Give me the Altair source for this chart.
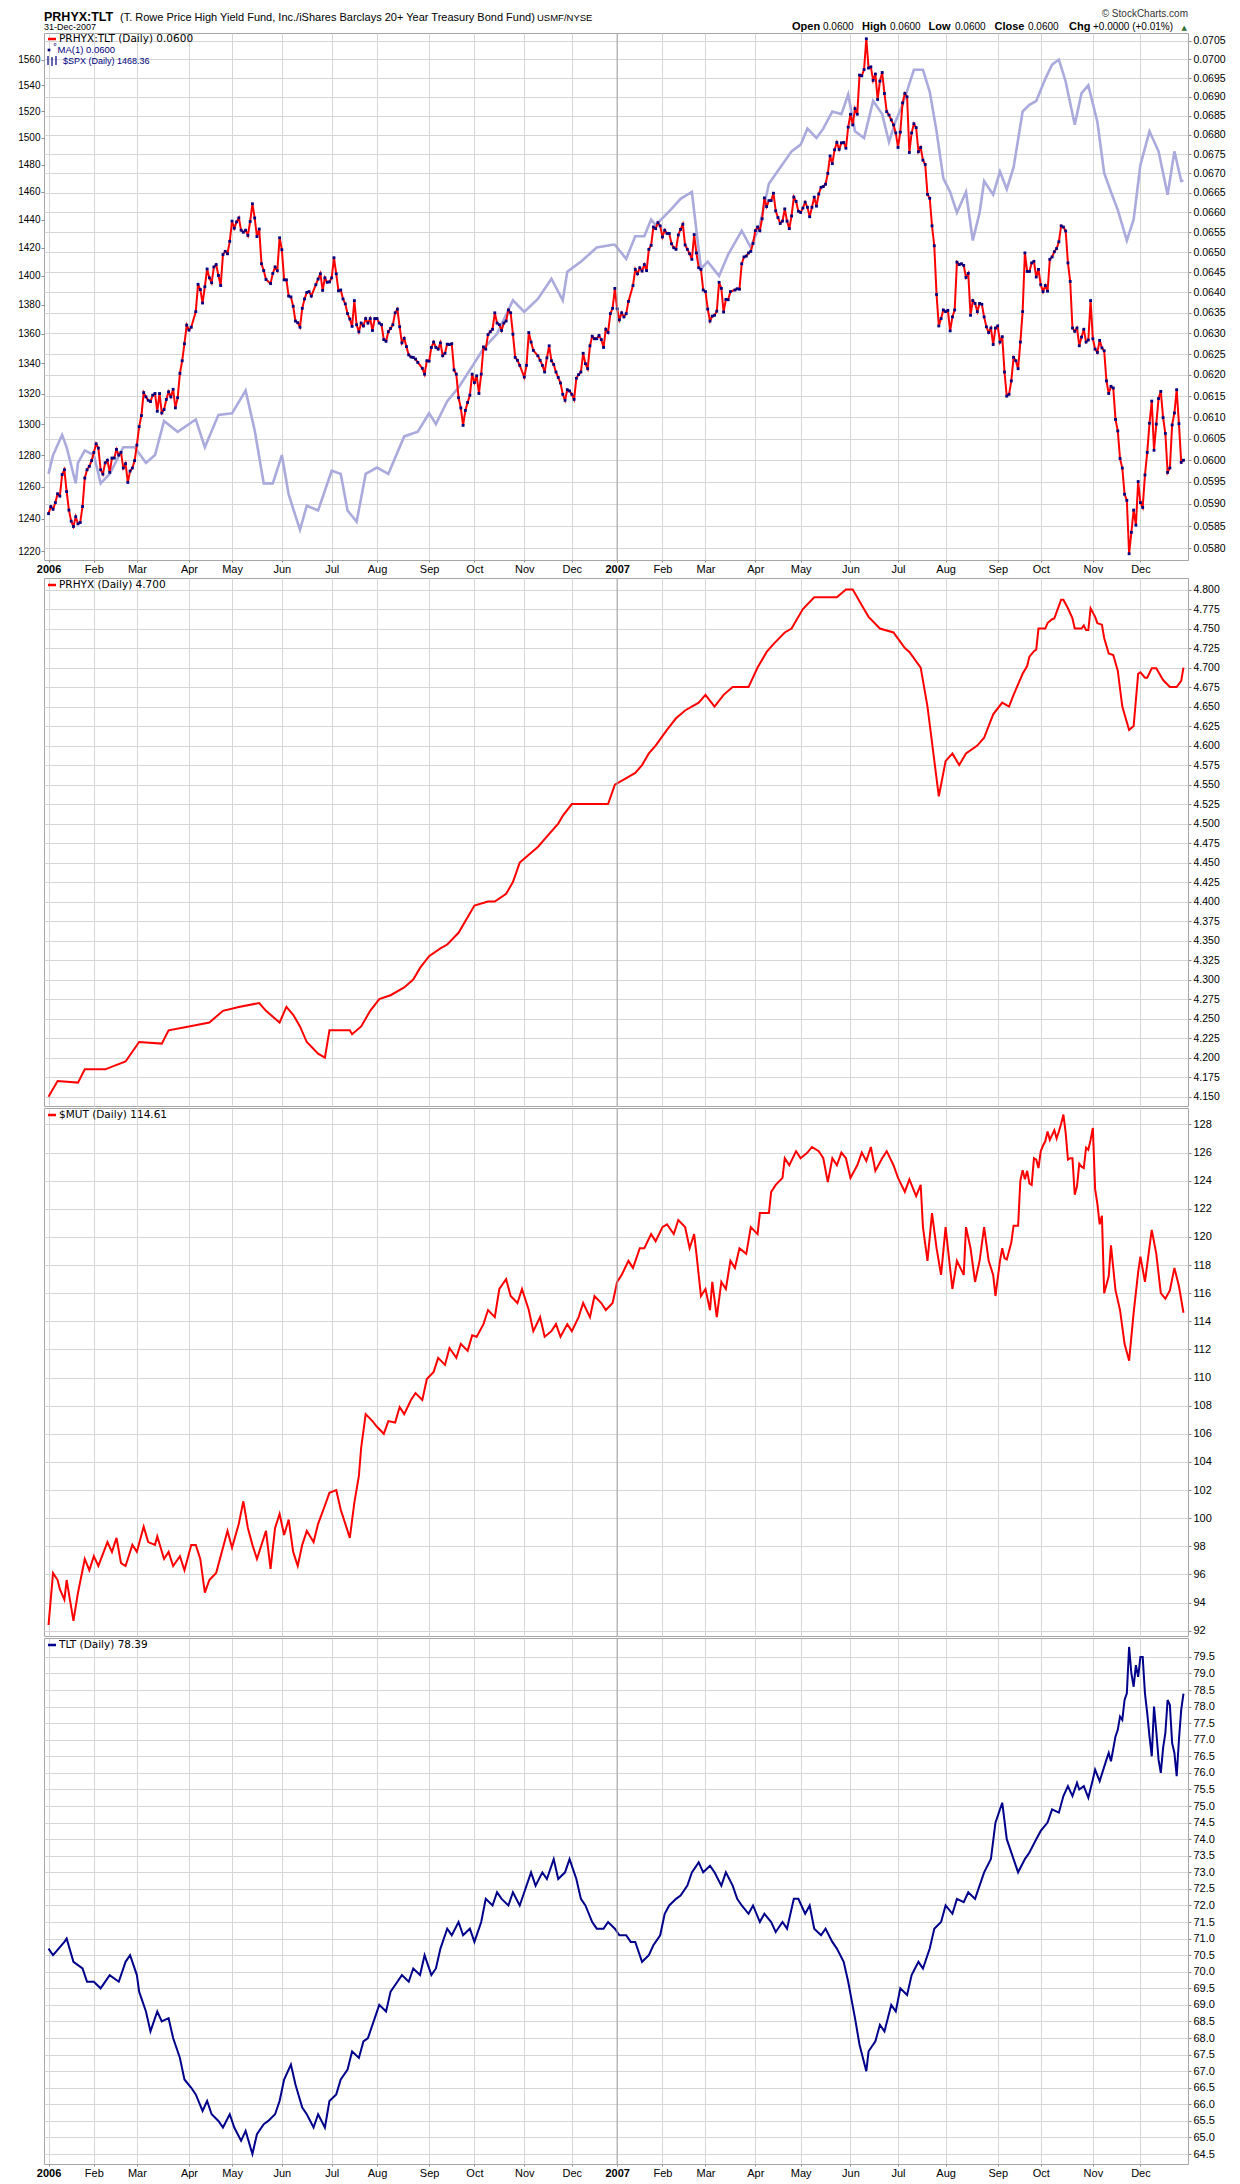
import json
import altair as alt
import pandas as pd

# ---------------- data ----------------
# (session number counted from 2006-01-03 = 0, value)
SPX_POINTS = [
    (0, 1268), (2, 1280), (6, 1293), (8, 1285), (12, 1262), (13, 1275), (16, 1283), (20, 1280),
    (23, 1262), (27, 1268), (33, 1285), (38, 1285), (43, 1275), (47, 1280), (51, 1302), (57, 1295),
    (65, 1303), (69, 1285), (75, 1306), (81, 1307), (87, 1322), (91, 1296), (95, 1262), (99, 1262),
    (103, 1280), (106, 1255), (111, 1233), (114, 1248), (119, 1245), (125, 1270), (129, 1268),
    (132, 1245), (136, 1238), (140, 1268), (145, 1272), (150, 1268), (157, 1292), (163, 1295),
    (168, 1307), (171, 1300), (176, 1315), (181, 1324), (187, 1338), (192, 1350), (198, 1360),
    (205, 1383), (210, 1375), (216, 1384), (222, 1398), (227, 1383), (229, 1403), (235, 1410),
    (242, 1420), (249, 1422), (250, 1422), (255, 1412), (259, 1428), (263, 1428), (266, 1440),
    (268, 1436), (274, 1446), (279, 1455), (284, 1460), (288, 1405), (291, 1410), (296, 1400),
    (300, 1415), (306, 1432), (310, 1420), (314, 1436), (318, 1466), (323, 1478), (328, 1490),
    (332, 1495), (335, 1507), (339, 1500), (342, 1507), (346, 1520), (350, 1518), (353, 1533),
    (356, 1505), (360, 1500), (364, 1528), (368, 1518), (371, 1497), (374, 1513), (377, 1525),
    (382, 1552), (386, 1552), (389, 1535), (392, 1505), (395, 1470), (398, 1460), (401, 1445),
    (405, 1460), (408, 1425), (411, 1445), (413, 1468), (417, 1458), (420, 1475), (423, 1462),
    (426, 1478), (430, 1520), (433, 1525), (436, 1528), (440, 1545), (443, 1556), (446, 1560),
    (449, 1543), (453, 1510), (456, 1534), (459, 1540), (463, 1512), (466, 1474), (469, 1460),
    (472, 1447), (476, 1425), (479, 1440), (482, 1480), (486, 1505), (490, 1490), (494, 1458),
    (497, 1490), (500, 1468), (501, 1468.36)]

PRHYX_POINTS = [
    (0, 4.150), (4, 4.170), (13, 4.168), (16, 4.185), (25, 4.185), (34, 4.195), (40, 4.220),
    (50, 4.218), (53, 4.235), (62, 4.240), (71, 4.245), (77, 4.260), (84, 4.265), (93, 4.270),
    (96, 4.260), (102, 4.245), (105, 4.265), (108, 4.255), (111, 4.240), (114, 4.220), (119, 4.205),
    (122, 4.200), (124, 4.235), (133, 4.235), (134, 4.230), (138, 4.240), (142, 4.260), (146, 4.275),
    (151, 4.280), (157, 4.290), (161, 4.300), (164, 4.315), (168, 4.330), (173, 4.340), (176, 4.345),
    (181, 4.360), (185, 4.380), (188, 4.395), (194, 4.400), (197, 4.400), (202, 4.410), (205, 4.425),
    (208, 4.450), (212, 4.460), (216, 4.470), (219, 4.480), (225, 4.500), (227, 4.510), (231, 4.525),
    (247, 4.525), (250, 4.550), (256, 4.560), (259, 4.565), (262, 4.575), (265, 4.590), (268, 4.600),
    (273, 4.620), (277, 4.635), (281, 4.645), (287, 4.655), (290, 4.665), (294, 4.650), (298, 4.665),
    (302, 4.675), (309, 4.675), (313, 4.700), (317, 4.720), (320, 4.730), (325, 4.745), (328, 4.750),
    (333, 4.775), (338, 4.790), (348, 4.790), (352, 4.800), (355, 4.800), (359, 4.780), (362, 4.765),
    (367, 4.750), (373, 4.745), (378, 4.725), (380, 4.720), (385, 4.700), (388, 4.650), (393, 4.535),
    (396, 4.580), (399, 4.590), (402, 4.575), (405, 4.590), (410, 4.600), (413, 4.610), (417, 4.640),
    (421, 4.655), (424, 4.650), (426, 4.665), (430, 4.692), (432, 4.702), (433, 4.714), (435, 4.721),
    (436, 4.723), (437, 4.750), (440, 4.750), (441, 4.757), (443, 4.762), (444, 4.763), (445, 4.771),
    (447, 4.787), (448, 4.787), (450, 4.776), (452, 4.763), (453, 4.750), (456, 4.750), (457, 4.754),
    (458, 4.748), (459, 4.748), (460, 4.776), (462, 4.765), (463, 4.757), (465, 4.755), (466, 4.738),
    (468, 4.718), (470, 4.716), (472, 4.696), (474, 4.650), (477, 4.620), (479, 4.625), (481, 4.692),
    (482, 4.694), (484, 4.687), (485, 4.687), (487, 4.699), (489, 4.699), (492, 4.684), (495, 4.675),
    (498, 4.675), (500, 4.683), (501, 4.700)]

MUT_POINTS = [
    (0, 92.4), (2, 96.1), (4, 95.6), (5, 94.95), (7, 94.2), (8, 95.6), (11, 92.7), (13, 94.7),
    (16, 97.1), (18, 96.3), (20, 97.3), (22, 96.6), (26, 98.3), (28, 97.6), (30, 98.6), (32, 96.8),
    (34, 96.6), (37, 98.1), (39, 97.6), (42, 99.4), (44, 98.3), (47, 98.1), (48, 98.7), (51, 97.1),
    (53, 97.6), (55, 96.6), (58, 97.3), (60, 96.3), (63, 98.1), (65, 98.1), (67, 97.1), (69, 94.7),
    (71, 95.6), (74, 96.1), (76, 97.3), (79, 99.1), (81, 97.9), (84, 99.6), (86, 101.2), (88, 99.3),
    (90, 98.1), (92, 97.1), (95, 98.6), (96, 99.1), (98, 96.4), (100, 99.3), (102, 100.3), (104, 98.8),
    (106, 99.9), (108, 97.6), (110, 96.6), (112, 98.1), (114, 99.1), (117, 98.3), (119, 99.6),
    (122, 100.9), (124, 101.8), (127, 102.0), (129, 100.6), (132, 99.1), (133, 98.6), (135, 101.1),
    (137, 103.0), (138, 105.0), (140, 107.4), (143, 106.9), (145, 106.5), (148, 106.0), (150, 106.9),
    (153, 106.8), (155, 107.9), (157, 107.4), (160, 108.4), (162, 108.9), (165, 108.4), (167, 109.9),
    (170, 110.4), (172, 111.4), (175, 110.9), (177, 112.1), (180, 111.4), (182, 112.4), (185, 111.9),
    (187, 113.0), (189, 112.9), (192, 113.8), (194, 114.8), (197, 114.3), (199, 116.3), (202, 117.0),
    (204, 115.8), (207, 115.3), (209, 116.3), (212, 114.8), (214, 113.3), (217, 114.3), (219, 112.9),
    (222, 113.3), (224, 113.8), (226, 112.9), (229, 113.8), (231, 113.3), (234, 114.3), (236, 115.3),
    (239, 114.3), (241, 115.8), (244, 115.3), (246, 114.8), (249, 115.3), (251, 116.8), (253, 117.3),
    (256, 118.3), (258, 117.8), (261, 119.2), (263, 119.2), (266, 120.2), (268, 119.7), (271, 120.7),
    (273, 120.9), (276, 120.2), (278, 121.2), (281, 120.7), (283, 119.2), (285, 120.2), (286, 118.8),
    (288, 115.8), (290, 116.3), (292, 114.8), (293, 116.8), (295, 114.3), (297, 116.8), (299, 116.3),
    (301, 118.3), (303, 117.8), (305, 119.2), (308, 118.8), (310, 120.7), (313, 120.2), (314, 121.7),
    (318, 121.7), (319, 123.2), (321, 123.7), (324, 124.2), (325, 125.6), (327, 125.1), (330, 126.1),
    (332, 125.6), (335, 126.0), (337, 126.4), (340, 126.1), (342, 125.6), (344, 123.9), (346, 125.6),
    (348, 125.1), (350, 126.0), (352, 125.6), (354, 124.2), (357, 125.1), (359, 126.0), (361, 125.4),
    (363, 126.4), (365, 124.7), (368, 125.6), (370, 126.1), (373, 125.1), (375, 124.2), (378, 123.2),
    (380, 124.1), (383, 122.9), (385, 123.7), (386, 120.7), (388, 118.3), (390, 121.7), (392, 119.2),
    (394, 117.3), (396, 120.7), (397, 119.2), (399, 116.3), (401, 118.3), (404, 117.3), (405, 120.7),
    (407, 119.2), (409, 116.8), (411, 118.3), (413, 120.7), (415, 118.3), (417, 117.3), (418, 115.8),
    (420, 118.3), (421, 119.2), (422, 118.5), (423, 118.4), (425, 119.6), (426, 120.8), (428, 120.8),
    (429, 124.0), (430, 124.75), (431, 124.1), (432, 124.7), (433, 123.8), (434, 123.7), (435, 125.6),
    (436, 125.5), (437, 124.9), (438, 126.1), (439, 126.5), (440, 126.8), (441, 127.5), (442, 126.9),
    (444, 127.6), (445, 127.0), (446, 127.5), (447, 128.05), (448, 128.7), (449, 127.4), (450, 125.5),
    (451, 125.6), (452, 125.6), (453, 123.0), (454, 123.6), (455, 125.2), (456, 125.0), (457, 124.9),
    (458, 126.35), (459, 126.2), (460, 126.9), (461, 127.75), (462, 123.4), (463, 122.35), (464, 120.9),
    (465, 121.5), (466, 116.0), (468, 117.2), (469, 119.4), (471, 116.2), (473, 114.8), (475, 112.4),
    (477, 111.2), (479, 114.6), (481, 117.5), (482, 118.6), (484, 116.8), (486, 119.3), (487, 120.5),
    (489, 118.8), (491, 116.0), (493, 115.6), (495, 116.2), (497, 117.8), (499, 116.5), (501, 114.61)]

TLT_POINTS = [
    (0, 70.7), (2, 70.5), (7, 70.9), (8, 71.0), (11, 70.3), (15, 70.1), (17, 69.7), (20, 69.7),
    (23, 69.5), (27, 69.9), (31, 69.7), (34, 70.3), (36, 70.5), (39, 69.9), (40, 69.4), (43, 68.8),
    (45, 68.2), (48, 68.8), (50, 68.5), (53, 68.6), (55, 68.0), (58, 67.4), (60, 66.75), (63, 66.5),
    (65, 66.3), (68, 65.8), (70, 66.1), (72, 65.7), (75, 65.5), (77, 65.3), (80, 65.7), (82, 65.3),
    (85, 64.9), (87, 65.2), (90, 64.5), (92, 65.1), (95, 65.4), (97, 65.5), (100, 65.7), (102, 66.1),
    (104, 66.75), (107, 67.2), (109, 66.6), (112, 65.9), (114, 65.7), (117, 65.3), (119, 65.7),
    (122, 65.3), (124, 66.1), (127, 66.3), (129, 66.75), (132, 67.05), (134, 67.6), (137, 67.4),
    (139, 67.9), (141, 68.0), (144, 68.6), (146, 69.0), (149, 68.8), (151, 69.4), (154, 69.7),
    (156, 69.9), (159, 69.7), (161, 70.1), (164, 69.9), (166, 70.5), (169, 69.9), (171, 70.1),
    (173, 70.7), (176, 71.3), (178, 71.1), (181, 71.5), (183, 71.1), (186, 71.3), (188, 70.9),
    (191, 71.5), (193, 72.2), (196, 72.0), (198, 72.4), (200, 72.2), (203, 72.0), (205, 72.4),
    (208, 72.0), (210, 72.4), (213, 73.0), (215, 72.6), (218, 73.0), (220, 72.8), (223, 73.4),
    (225, 72.8), (228, 73.0), (230, 73.4), (233, 72.8), (235, 72.2), (237, 72.0), (240, 71.5),
    (242, 71.3), (245, 71.3), (247, 71.5), (250, 71.3), (252, 71.1), (255, 71.1), (257, 70.9),
    (259, 70.9), (262, 70.3), (265, 70.5), (267, 70.8), (270, 71.1), (272, 71.75), (274, 72.0),
    (277, 72.2), (279, 72.3), (282, 72.6), (284, 73.0), (287, 73.3), (289, 73.0), (292, 73.2),
    (294, 73.0), (297, 72.6), (299, 73.0), (302, 72.6), (304, 72.2), (306, 72.0), (309, 71.75),
    (311, 72.0), (314, 71.5), (316, 71.75), (319, 71.5), (321, 71.2), (324, 71.5), (326, 71.3),
    (329, 72.2), (331, 72.2), (334, 71.75), (336, 72.0), (338, 71.3), (341, 71.1), (343, 71.3),
    (346, 70.9), (348, 70.7), (351, 70.3), (353, 69.7), (356, 68.6), (358, 67.8), (361, 67.0),
    (362, 67.6), (365, 67.9), (367, 68.4), (369, 68.2), (372, 69.0), (374, 68.8), (376, 69.5),
    (379, 69.3), (381, 69.9), (384, 70.3), (386, 70.1), (389, 70.7), (391, 71.3), (394, 71.5),
    (396, 72.0), (399, 71.75), (401, 72.2), (404, 72.1), (406, 72.4), (409, 72.2), (411, 72.6),
    (413, 73.0), (416, 73.4), (418, 74.5), (421, 75.1), (423, 74.0), (426, 73.4), (428, 73.0),
    (431, 73.4), (433, 73.6), (436, 74.0), (438, 74.25), (441, 74.5), (443, 74.9), (446, 74.8),
    (448, 75.3), (450, 75.6), (452, 75.3), (454, 75.7), (455, 75.5), (457, 75.6), (459, 75.25),
    (461, 75.8), (462, 76.1), (464, 75.75), (467, 76.4), (468, 76.6), (469, 76.35), (471, 77.1),
    (472, 77.3), (473, 77.7), (474, 77.6), (475, 78.2), (476, 78.4), (477, 79.8), (478, 79.0),
    (479, 78.6), (480, 79.25), (481, 78.9), (482, 79.5), (483, 79.5), (484, 78.4), (485, 77.8),
    (486, 77.1), (487, 76.5), (488, 78.0), (489, 77.25), (490, 76.4), (491, 76.0), (492, 76.75),
    (493, 77.2), (494, 78.2), (495, 78.05), (496, 76.9), (497, 76.6), (498, 75.9), (499, 77.0),
    (500, 77.9), (501, 78.39)]

# PRHYX:TLT ratio, daily (session number, value)
RATIO_SESSION = [
    0, 1, 2, 3, 4, 5, 6, 7, 8, 9, 10, 11, 12, 13, 14, 15, 16, 17, 18, 19,
    20, 21, 22, 23, 24, 25, 26, 27, 28, 29, 30, 31, 32, 33, 34, 35, 36, 37, 38, 39,
    40, 41, 42, 43, 44, 45, 46, 47, 48, 49, 50, 51, 52, 53, 54, 55, 56, 57, 58, 59,
    60, 61, 62, 63, 65, 66, 67, 68, 69, 70, 71, 72, 73, 74, 75, 76, 77, 78, 79, 80,
    81, 82, 83, 84, 85, 86, 87, 88, 89, 90, 91, 92, 93, 94, 95, 96, 98, 99, 100, 101,
    102, 103, 104, 105, 106, 107, 108, 109, 110, 111, 112, 113, 114, 115, 116, 118, 119, 120, 121, 122,
    123, 124, 125, 126, 127, 128, 129, 130, 131, 132, 133, 134, 135, 136, 137, 138, 139, 140, 141, 142,
    143, 144, 145, 146, 147, 148, 149, 150, 151, 152, 153, 154, 155, 156, 157, 158, 159, 160, 161, 162,
    163, 165, 166, 167, 168, 169, 170, 171, 172, 173, 174, 175, 176, 177, 178, 179, 180, 181, 182, 183,
    184, 185, 186, 187, 188, 189, 190, 191, 192, 193, 194, 195, 196, 197, 198, 199, 200, 201, 202, 203,
    204, 205, 206, 207, 208, 210, 211, 212, 213, 214, 216, 217, 218, 219, 220, 221, 222, 223, 224, 225,
    226, 227, 228, 229, 230, 231, 232, 233, 234, 235, 236, 237, 238, 239, 240, 241, 242, 243, 244, 245,
    246, 247, 248, 249,
    250, 251, 252, 253, 254, 255, 256, 258, 259, 260, 261, 262, 263, 264, 265, 266, 267, 268, 269, 270,
    271, 272, 273, 274, 275, 276, 277, 278, 279, 280, 281, 282, 283, 284, 285, 286, 287, 288, 289, 290,
    291, 292, 293, 294, 295, 296, 297, 298, 299, 300, 301, 303, 304, 305, 306, 307, 308, 309, 310, 311,
    312, 313, 314, 315, 316, 317, 318, 319, 320, 321, 322, 323, 324, 325, 326, 327, 328, 329, 330, 331,
    332, 333, 334, 335, 336, 337, 338, 339, 340, 341, 342, 343, 344, 345, 346, 347, 348, 349, 350, 351,
    352, 353, 354, 355, 356, 357, 358, 359, 360, 361, 362, 363, 364, 365, 366, 367, 368, 369, 370, 371,
    372, 373, 374, 375, 376, 377, 378, 379, 380, 381, 382, 383, 384, 385, 386, 387, 388, 389, 390, 391,
    392, 393, 394, 395, 396, 397, 398, 399, 400, 401, 402, 403, 404, 405, 406, 407, 408, 409, 410, 411,
    412, 413, 414, 415, 416, 417, 418, 419, 420, 421, 422, 423, 424, 425, 426, 427, 428, 429, 430, 431,
    432, 433, 434, 435, 436, 437, 438, 439, 440, 441, 442, 443, 444, 445, 446, 447, 448, 449, 450, 451,
    452, 453, 454, 455, 456, 457, 458, 459, 460, 461, 462, 463, 464, 465, 466, 467, 468, 469, 470, 471,
    472, 473, 474, 475, 476, 477, 478, 479, 480, 481, 482, 483, 484, 485, 486, 487, 488, 489, 490, 491,
    492, 493, 494, 495, 496, 497, 498, 499, 500, 501]
RATIO_VALUE = [
    0.05878, 0.05894, 0.05888, 0.05903, 0.05923, 0.05918, 0.05967, 0.05978, 0.05928, 0.05886,
    0.05861, 0.05849, 0.05871, 0.05855, 0.05858, 0.05894, 0.05959, 0.05978, 0.05986, 0.05999,
    0.06018, 0.06038, 0.06028, 0.05978, 0.05968, 0.05994, 0.06000, 0.05972, 0.06005, 0.06005,
    0.06025, 0.06012, 0.06018, 0.05982, 0.05992, 0.05949, 0.05975, 0.05982, 0.05999, 0.06035,
    0.06078, 0.06104, 0.06158, 0.06148, 0.06140, 0.06137, 0.06152, 0.06156, 0.06114, 0.06156,
    0.06110, 0.06118, 0.06142, 0.06160, 0.06148, 0.06166, 0.06122, 0.06146, 0.06204, 0.06234,
    0.06275, 0.06320, 0.06308, 0.06315, 0.06353, 0.06420, 0.06407, 0.06374, 0.06414, 0.06458,
    0.06436, 0.06424, 0.06463, 0.06469, 0.06442, 0.06417, 0.06494, 0.06502, 0.06496, 0.06527,
    0.06578, 0.06560, 0.06576, 0.06586, 0.06555, 0.06550, 0.06555, 0.06542, 0.06577, 0.06622,
    0.06586, 0.06539, 0.06558, 0.06471, 0.06454, 0.06432, 0.06422, 0.06447, 0.06463, 0.06454,
    0.06536, 0.06506, 0.06431, 0.06431, 0.06391, 0.06389, 0.06366, 0.06330, 0.06326, 0.06315,
    0.06361, 0.06384, 0.06400, 0.06402, 0.06391, 0.06419, 0.06433, 0.06446, 0.06405, 0.06436,
    0.06425, 0.06426, 0.06436, 0.06486, 0.06446, 0.06404, 0.06406, 0.06384, 0.06372, 0.06348,
    0.06335, 0.06317, 0.06380, 0.06321, 0.06304, 0.06325, 0.06318, 0.06336, 0.06325, 0.06336,
    0.06307, 0.06336, 0.06336, 0.06325, 0.06321, 0.06285, 0.06281, 0.06304, 0.06312, 0.06321,
    0.06350, 0.06359, 0.06316, 0.06277, 0.06288, 0.06268, 0.06248, 0.06243, 0.06242, 0.06238,
    0.06230, 0.06216, 0.06202, 0.06234, 0.06233, 0.06266, 0.06279, 0.06266, 0.06262, 0.06277,
    0.06246, 0.06252, 0.06274, 0.06273, 0.06275, 0.06212, 0.06202, 0.06146, 0.06122, 0.06081,
    0.06116, 0.06135, 0.06152, 0.06202, 0.06182, 0.06198, 0.06156, 0.06202, 0.06267, 0.06262,
    0.06297, 0.06304, 0.06310, 0.06350, 0.06325, 0.06321, 0.06307, 0.06325, 0.06330, 0.06357,
    0.06350, 0.06298, 0.06242, 0.06235, 0.06223, 0.06195, 0.06223, 0.06302, 0.06279, 0.06259,
    0.06246, 0.06235, 0.06223, 0.06207, 0.06241, 0.06270, 0.06234, 0.06225, 0.06207, 0.06194,
    0.06181, 0.06154, 0.06140, 0.06165, 0.06162, 0.06154, 0.06142, 0.06192, 0.06201, 0.06207,
    0.06252, 0.06227, 0.06215, 0.06270, 0.06293, 0.06287, 0.06287, 0.06295, 0.06285, 0.06266,
    0.06310, 0.06302, 0.06348, 0.06361,
    0.06410, 0.06360, 0.06333, 0.06350, 0.06340, 0.06348, 0.06378, 0.06417, 0.06457, 0.06446,
    0.06461, 0.06453, 0.06469, 0.06454, 0.06507, 0.06517, 0.06563, 0.06559, 0.06574, 0.06566,
    0.06538, 0.06555, 0.06547, 0.06547, 0.06521, 0.06511, 0.06507, 0.06543, 0.06557, 0.06570,
    0.06518, 0.06507, 0.06496, 0.06482, 0.06544, 0.06498, 0.06461, 0.06457, 0.06406, 0.06402,
    0.06359, 0.06330, 0.06342, 0.06344, 0.06354, 0.06425, 0.06410, 0.06352, 0.06383, 0.06382,
    0.06402, 0.06406, 0.06409, 0.06408, 0.06471, 0.06488, 0.06490, 0.06498, 0.06502, 0.06522,
    0.06554, 0.06563, 0.06554, 0.06584, 0.06637, 0.06615, 0.06630, 0.06630, 0.06649, 0.06604,
    0.06587, 0.06572, 0.06578, 0.06609, 0.06578, 0.06559, 0.06591, 0.06639, 0.06628, 0.06603,
    0.06600, 0.06611, 0.06626, 0.06613, 0.06589, 0.06613, 0.06639, 0.06616, 0.06647, 0.06664,
    0.06666, 0.06672, 0.06700, 0.06745, 0.06725, 0.06761, 0.06780, 0.06762, 0.06779, 0.06780,
    0.06765, 0.06820, 0.06854, 0.06826, 0.06869, 0.06854, 0.06958, 0.06956, 0.06973, 0.07056,
    0.06977, 0.06980, 0.06944, 0.06961, 0.06893, 0.06942, 0.06965, 0.06909, 0.06861, 0.06852,
    0.06839, 0.06826, 0.06805, 0.06767, 0.06807, 0.06884, 0.06909, 0.06900, 0.06754, 0.06805,
    0.06829, 0.06819, 0.06756, 0.06767, 0.06734, 0.06723, 0.06646, 0.06636, 0.06566, 0.06516,
    0.06395, 0.06318, 0.06336, 0.06357, 0.06353, 0.06356, 0.06306, 0.06340, 0.06357, 0.06475,
    0.06469, 0.06471, 0.06467, 0.06437, 0.06447, 0.06344, 0.06380, 0.06373, 0.06353, 0.06373,
    0.06371, 0.06340, 0.06316, 0.06302, 0.06313, 0.06273, 0.06313, 0.06318, 0.06279, 0.06292,
    0.06207, 0.06150, 0.06154, 0.06186, 0.06242, 0.06234, 0.06215, 0.06279, 0.06353, 0.06498,
    0.06452, 0.06452, 0.06473, 0.06477, 0.06438, 0.06457, 0.06419, 0.06402, 0.06417, 0.06403,
    0.06482, 0.06488, 0.06501, 0.06509, 0.06526, 0.06566, 0.06563, 0.06553, 0.06473, 0.06427,
    0.06313, 0.06305, 0.06313, 0.06270, 0.06291, 0.06310, 0.06279, 0.06284, 0.06380, 0.06287,
    0.06262, 0.06254, 0.06283, 0.06265, 0.06258, 0.06186, 0.06156, 0.06173, 0.06169, 0.06095,
    0.06068, 0.06004, 0.05982, 0.05922, 0.05908, 0.05788, 0.05836, 0.05886, 0.05852, 0.05951,
    0.05903, 0.05892, 0.05966, 0.06018, 0.06086, 0.06138, 0.06023, 0.06084, 0.06144, 0.06161,
    0.06099, 0.06062, 0.05972, 0.05982, 0.06082, 0.06110, 0.06165, 0.06085, 0.05995, 0.06000]

HOLIDAYS = ["2006-01-16", "2006-02-20", "2006-04-14", "2006-05-29", "2006-07-04", "2006-09-04",
            "2006-11-23", "2006-12-25", "2007-01-01", "2007-01-02", "2007-01-15", "2007-02-19",
            "2007-04-06", "2007-05-28", "2007-07-04", "2007-09-03", "2007-11-22", "2007-12-25"]
MONTHS = ["Jan", "Feb", "Mar", "Apr", "May", "Jun", "Jul", "Aug", "Sep", "Oct", "Nov", "Dec"]

RATIO_TICKS = [0.0580, 0.0585, 0.0590, 0.0595, 0.0600, 0.0605, 0.0610, 0.0615, 0.0620, 0.0625,
               0.0630, 0.0635, 0.0640, 0.0645, 0.0650, 0.0655, 0.0660, 0.0665, 0.0670, 0.0675,
               0.0680, 0.0685, 0.0690, 0.0695, 0.0700, 0.0705]
SPX_TICKS = [1220, 1240, 1260, 1280, 1300, 1320, 1340, 1360, 1380, 1400, 1420, 1440, 1460,
             1480, 1500, 1520, 1540, 1560]
PRHYX_TICKS = [4.150, 4.175, 4.200, 4.225, 4.250, 4.275, 4.300, 4.325, 4.350, 4.375, 4.400,
               4.425, 4.450, 4.475, 4.500, 4.525, 4.550, 4.575, 4.600, 4.625, 4.650, 4.675,
               4.700, 4.725, 4.750, 4.775, 4.800]
MUT_TICKS = [92, 94, 96, 98, 100, 102, 104, 106, 108, 110, 112, 114, 116, 118, 120, 122, 124, 126, 128]
TLT_TICKS = [64.5, 65.0, 65.5, 66.0, 66.5, 67.0, 67.5, 68.0, 68.5, 69.0, 69.5, 70.0, 70.5, 71.0,
             71.5, 72.0, 72.5, 73.0, 73.5, 74.0, 74.5, 75.0, 75.5, 76.0, 76.5, 77.0, 77.5, 78.0,
             78.5, 79.0, 79.5]

# ---------------- trading calendar ----------------
sessions = pd.bdate_range("2006-01-03", "2007-12-31")
sessions = sessions[~sessions.isin(pd.to_datetime(HOLIDAYS))]
n = len(sessions)


def day(i):
    return sessions[i].strftime("%Y-%m-%d")


def points_df(points, name):
    return pd.DataFrame({"idx": [p[0] for p in points], "date": [day(p[0]) for p in points],
                         name: [p[1] for p in points]})


spx_df = points_df(SPX_POINTS, "spx")
prhyx_df = points_df(PRHYX_POINTS, "prhyx")
mut_df = points_df(MUT_POINTS, "mut")
tlt_df = points_df(TLT_POINTS, "tlt")
ratio_df = pd.DataFrame({"idx": RATIO_SESSION, "date": [day(i) for i in RATIO_SESSION],
                         "ratio": RATIO_VALUE})

first = pd.Series(range(n), index=sessions).groupby([sessions.year, sessions.month]).min()
tick_vals = [int(v) for v in first.values]
tick_labs = [str(y) if m == 1 else MONTHS[m - 1] for (y, m) in first.index]
year_vals = [int(v) for (y, m), v in first.items() if m == 1]
year_df = pd.DataFrame({"idx": year_vals[1:]})
one = pd.DataFrame({"k": [0]})

# ---------------- styling ----------------
W = 1144
H1, H2, H3, H4 = 527, 528, 528, 526
GRID = "#d6d6d6"
TICKC = "#8c8c8c"
RED = "#ff0000"
NAVY = "#000080"

XSCALE = alt.Scale(domain=[-2, n + 1], nice=False, zero=False)
label_expr = f"{json.dumps(tick_labs)}[indexof({json.dumps(tick_vals)}, datum.value)]"
bold_test = " || ".join(f"datum.value == {v}" for v in year_vals)

X_LAB = alt.Axis(values=tick_vals, labelExpr=label_expr,
                 labelFontWeight={"condition": {"test": bold_test, "value": "bold"}, "value": "normal"},
                 grid=True, gridColor=GRID, domain=False, ticks=True, tickSize=2, tickColor=TICKC,
                 labelPadding=1, labelFontSize=11, labelFont="Liberation Sans", labelColor="#000000",
                 labelFlush=False, labelOverlap=False, title=None)
X_NOLAB = alt.Axis(values=tick_vals, labels=False, ticks=False, domain=False, grid=True,
                   gridColor=GRID, title=None)


def xenc(axis):
    return alt.X("idx:Q", scale=XSCALE, axis=axis)


def y_right(vals, fmt, size=11):
    return alt.Axis(orient="right", values=vals, format=fmt, grid=True, gridColor=GRID, ticks=True,
                    tickSize=3, tickColor=TICKC, domain=False, labelPadding=2, labelFontSize=size,
                    labelFont="Liberation Sans", labelColor="#000000", labelOverlap=False, title=None)


def logscale(dom):
    return alt.Scale(type="log", domain=dom, nice=False, zero=False)


def linscale(dom):
    return alt.Scale(type="linear", domain=dom, nice=False, zero=False)


def txt(s, x, y, size=10.5, color="#000000", weight="normal", font="DejaVu Sans",
        align="left", baseline="middle"):
    return alt.Chart(one).mark_text(text=s, align=align, baseline=baseline, fontSize=size,
                                    color=color, fontWeight=weight, font=font).encode(
        x=alt.value(x), y=alt.value(y))


def dash(y, color):
    return alt.Chart(one).mark_rule(color=color, strokeWidth=2.5).encode(
        x=alt.value(4), x2=alt.value(12), y=alt.value(y))


def year_rule(axis):
    return alt.Chart(year_df).mark_rule(color="#a3a3a3", strokeWidth=1).encode(x=xenc(axis))


# ---------------- panel 1 ----------------
RS = logscale([0.057741, 0.070716])
RATIO_AXIS = y_right(RATIO_TICKS, ".4f", 10.5)
spx_line = alt.Chart(spx_df).mark_line(color="#aaaadd", strokeWidth=2.6).encode(
    x=xenc(X_LAB),
    y=alt.Y("spx:Q", scale=logscale([1214.55, 1580.85]),
            axis=alt.Axis(orient="left", values=SPX_TICKS, format="d", grid=False, ticks=True,
                          tickSize=3, tickColor=TICKC, domain=False, labelPadding=1,
                          labelFontSize=10, labelFont="Liberation Sans", labelColor="#000000",
                          labelOverlap=False, title=None)))
rbase = alt.Chart(ratio_df)
ratio_line = rbase.mark_line(color=RED, strokeWidth=2).encode(
    x=xenc(X_LAB), y=alt.Y("ratio:Q", scale=RS, axis=RATIO_AXIS))
ratio_pts = rbase.mark_square(size=8, color=NAVY, opacity=1).encode(
    x=xenc(X_LAB), y=alt.Y("ratio:Q", scale=RS, axis=RATIO_AXIS))

top_texts = [
    txt("PRHYX:TLT", 0, -12, size=12.5, weight="bold", font="Liberation Sans", baseline="alphabetic"),
    txt("(T. Rowe Price High Yield Fund, Inc./iShares Barclays 20+ Year Treasury Bond Fund)", 76, -12,
        size=11, font="Liberation Sans", baseline="alphabetic"),
    txt("USMF/NYSE", 493, -12, size=9.5, font="Liberation Sans", baseline="alphabetic"),
    txt("31-Dec-2007", 0, -3, size=9, font="Liberation Sans", baseline="alphabetic"),
    txt("\u00a9 StockCharts.com", W, -16, size=10, color="#333333", font="Liberation Sans",
        align="right", baseline="alphabetic"),
    txt("Open", 748, -3, size=11, weight="bold", font="Liberation Sans", baseline="alphabetic"),
    txt("0.0600", 779, -3, size=10, font="Liberation Sans", baseline="alphabetic"),
    txt("High", 818, -3, size=11, weight="bold", font="Liberation Sans", baseline="alphabetic"),
    txt("0.0600", 846, -3, size=10, font="Liberation Sans", baseline="alphabetic"),
    txt("Low", 884.5, -3, size=11, weight="bold", font="Liberation Sans", baseline="alphabetic"),
    txt("0.0600", 911, -3, size=10, font="Liberation Sans", baseline="alphabetic"),
    txt("Close", 950.5, -3, size=11, weight="bold", font="Liberation Sans", baseline="alphabetic"),
    txt("0.0600", 984, -3, size=10, font="Liberation Sans", baseline="alphabetic"),
    txt("Chg", 1025, -3, size=11, weight="bold", font="Liberation Sans", baseline="alphabetic"),
    txt("+0.0000 (+0.01%)", 1049, -3, size=10, font="Liberation Sans", baseline="alphabetic"),
    txt("\u25b2", 1143, -3, size=7, color="#2f6f2f", font="DejaVu Sans", align="right",
        baseline="alphabetic"),
]
legend1 = [
    dash(6, RED),
    txt("PRHYX:TLT (Daily) 0.0600", 15, 6, size=10.5),
    alt.Chart(one).mark_square(size=7, color=NAVY, opacity=1).encode(x=alt.value(5), y=alt.value(17)),
    txt("\u00b0", 9, 15, size=8, color=NAVY),
    txt("MA(1) 0.0600", 13.5, 17, size=9.5, color=NAVY, font="Liberation Sans"),
    alt.Chart(one).mark_rule(color=NAVY, strokeWidth=1.2).encode(
        x=alt.value(4), y=alt.value(23), y2=alt.value(32)),
    alt.Chart(one).mark_rule(color=NAVY, strokeWidth=1.2).encode(
        x=alt.value(8), y=alt.value(24), y2=alt.value(33)),
    alt.Chart(one).mark_rule(color=NAVY, strokeWidth=1.2).encode(
        x=alt.value(12), y=alt.value(23), y2=alt.value(32)),
    txt("$SPX (Daily) 1468.36", 19, 28, size=9, color=NAVY, font="Liberation Sans"),
]
spacers = [
    alt.Chart(one).mark_rule(opacity=0).encode(x=alt.value(-35), y=alt.value(0), y2=alt.value(1)),
    alt.Chart(one).mark_rule(opacity=0).encode(x=alt.value(0), y=alt.value(H1), y2=alt.value(H1 + 16)),
]
p1 = alt.layer(spx_line, alt.layer(ratio_line, ratio_pts), year_rule(X_LAB), *top_texts, *legend1,
               *spacers).resolve_scale(y="independent").properties(width=W, height=H1)

# ---------------- panel 2 ----------------
p2 = alt.layer(
    alt.Chart(prhyx_df).mark_line(color=RED, strokeWidth=2).encode(
        x=xenc(X_NOLAB),
        y=alt.Y("prhyx:Q", scale=linscale([4.1380, 4.8148]), axis=y_right(PRHYX_TICKS, ".3f", 10.5))),
    year_rule(X_NOLAB),
    dash(7, RED),
    txt("PRHYX (Daily) 4.700", 15, 7, size=10.5),
).properties(width=W, height=H2)

# ---------------- panel 3 ----------------
p3 = alt.layer(
    alt.Chart(mut_df).mark_line(color=RED, strokeWidth=2).encode(
        x=xenc(X_NOLAB),
        y=alt.Y("mut:Q", scale=linscale([91.62, 129.17]), axis=y_right(MUT_TICKS, "d", 11))),
    year_rule(X_NOLAB),
    dash(7, RED),
    txt("$MUT (Daily) 114.61", 15, 7, size=10.5),
).properties(width=W, height=H3)

# ---------------- panel 4 ----------------
p4 = alt.layer(
    alt.Chart(tlt_df).mark_line(color="#00008b", strokeWidth=2).encode(
        x=xenc(X_LAB),
        y=alt.Y("tlt:Q", scale=linscale([64.20, 80.07]), axis=y_right(TLT_TICKS, ".1f", 11))),
    year_rule(X_LAB),
    dash(7, "#00008b"),
    txt("TLT (Daily) 78.39", 15, 7, size=10.5),
).properties(width=W, height=H4)

chart = alt.vconcat(p1, p2, p3, p4, spacing=0).properties(
    padding=0, background="white"
).configure_view(stroke="#a6a6a6", strokeWidth=1)

chart.save("out.html", embed_options={"renderer": "svg", "actions": False})
